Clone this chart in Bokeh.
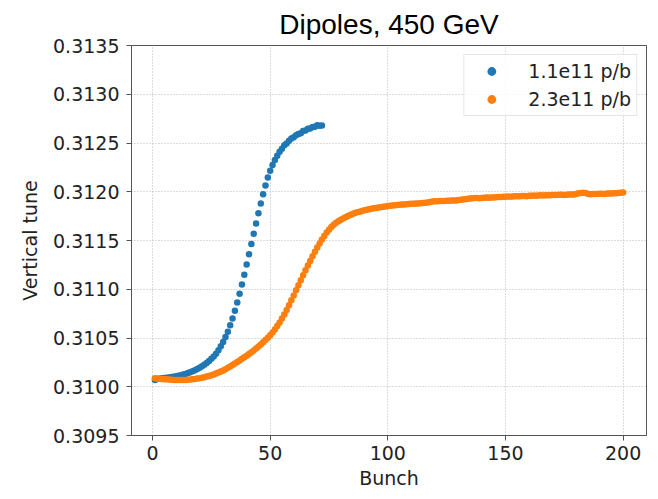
from bokeh.plotting import figure
from bokeh.models import FixedTicker, PrintfTickFormatter, Range1d, Legend, LegendItem
from bokeh.embed import file_html
from bokeh.resources import INLINE

title_text = "Dipoles, 450 GeV"
x_label = "Bunch"
y_label = "Vertical tune"
series_names = ["1.1e11 p/b", "2.3e11 p/b"]
x_ticks = [0, 50, 100, 150, 200]
y_ticks = [0.3095, 0.3100, 0.3105, 0.3110, 0.3115, 0.3120, 0.3125, 0.3130, 0.3135]

# tune offsets above 0.31, in units of 1e-6
blue_offsets = [
    68, 80, 83, 86, 89, 92, 95, 99, 103, 108,
    113, 119, 125, 132, 140, 149, 159, 170, 182, 195,
    210, 226, 244, 264, 286, 311, 339, 375, 415, 460,
    510, 565, 630, 700, 780, 865, 955, 1050, 1150, 1255,
    1360, 1465, 1570, 1675, 1780, 1880, 1975, 2065, 2145, 2215,
    2275, 2325, 2370, 2410, 2440, 2476, 2495, 2522, 2546, 2560,
    2580, 2592, 2600, 2622, 2628, 2645, 2650, 2663, 2666, 2682,
    2676, 2680,
]
orange_offsets = [
    88, 85, 82, 80, 78, 76, 74, 72, 70, 69,
    68, 68, 69, 70, 72, 74, 77, 80, 84, 88,
    93, 98, 104, 111, 118, 126, 135, 145, 156, 167,
    180, 194, 208, 223, 238, 254, 270, 286, 302, 319,
    336, 354, 373, 393, 413, 434, 456, 479, 503, 529,
    557, 588, 622, 659, 699, 742, 788, 836, 886, 937,
    989, 1041, 1093, 1144, 1194, 1243, 1291, 1338, 1384, 1428,
    1470, 1510, 1547, 1581, 1611, 1638, 1661, 1681, 1698, 1713,
    1726, 1739, 1751, 1762, 1772, 1781, 1789, 1796, 1803, 1809,
    1815, 1820, 1825, 1830, 1834, 1838, 1842, 1846, 1850, 1853,
    1856, 1859, 1862, 1864, 1866, 1868, 1870, 1872, 1874, 1876,
    1877, 1879, 1880, 1882, 1885, 1887, 1890, 1895, 1900, 1903,
    1902, 1904, 1906, 1905, 1907, 1908, 1910, 1909, 1911, 1915,
    1918, 1920, 1922, 1928, 1932, 1934, 1936, 1935, 1933, 1936,
    1938, 1940, 1939, 1941, 1942, 1944, 1945, 1946, 1948, 1950,
    1951, 1950, 1952, 1953, 1955, 1954, 1956, 1957, 1955, 1958,
    1960, 1961, 1960, 1962, 1963, 1962, 1964, 1965, 1964, 1966,
    1967, 1966, 1968, 1969, 1967, 1970, 1972, 1971, 1973, 1978,
    1985, 1988, 1990, 1987, 1980, 1975, 1976, 1978, 1977, 1979,
    1980, 1978, 1981, 1983, 1982, 1984, 1985, 1987, 1990, 1992,
]

base_tune = 0.31
blue_bunch = list(range(1, len(blue_offsets) + 1))
orange_bunch = list(range(1, len(orange_offsets) + 1))
blue_tune = [base_tune + v * 1e-6 for v in blue_offsets]
orange_tune = [base_tune + v * 1e-6 for v in orange_offsets]

colors = ["#1f77b4", "#ff7f0e"]

p = figure(width=650, height=491, output_backend="svg", toolbar_location=None,
           x_range=Range1d(-8.95, 209.95), y_range=Range1d(0.3095, 0.3135),
           min_border_left=131, min_border_right=4, min_border_top=45, min_border_bottom=54)

p.title.text = title_text
p.title.text_font = "Liberation Sans"
p.title.text_font_size = "28px"
p.title.text_font_style = "normal"
p.title.text_color = "black"
p.title.align = "center"
p.title.standoff = 12
p.title.offset = -5

r1 = p.scatter(blue_bunch, blue_tune, size=6.5, color=colors[0], line_color=None)
r2 = p.scatter(orange_bunch, orange_tune, size=6.5, color=colors[1], line_color=None)

axis_color = "#555555"
for ax in (p.xaxis[0], p.yaxis[0]):
    ax.axis_line_color = axis_color
    ax.major_tick_line_color = axis_color
    ax.minor_tick_line_color = None
    ax.major_tick_out = 5
    ax.major_tick_in = 0
    ax.major_label_text_font = "DejaVu Sans"
    ax.major_label_text_font_size = "19px"
    ax.major_label_text_color = "#222222"
    ax.axis_label_text_font = "DejaVu Sans"
    ax.axis_label_text_font_size = "19px"
    ax.axis_label_text_font_style = "normal"
    ax.axis_label_text_color = "#222222"

p.xaxis.ticker = FixedTicker(ticks=x_ticks)
p.yaxis.ticker = FixedTicker(ticks=y_ticks)
p.yaxis.formatter = PrintfTickFormatter(format="%.4f")
p.xaxis.axis_label = x_label
p.yaxis.axis_label = y_label
p.xaxis.major_label_standoff = 5
p.yaxis.major_label_standoff = 7
p.xaxis.axis_label_standoff = 4
p.yaxis.axis_label_standoff = 9

p.outline_line_color = axis_color
p.outline_line_width = 1

for g in (p.xgrid[0], p.ygrid[0]):
    g.grid_line_color = "#b8b8b8"
    g.grid_line_dash = "1 2"
    g.grid_line_width = 1

legend = Legend(items=[LegendItem(label=series_names[0], renderers=[r1]),
                       LegendItem(label=series_names[1], renderers=[r2])],
                location="top_right", margin=9, padding=5, spacing=6,
                glyph_width=44, glyph_height=22, label_standoff=15,
                label_text_font="DejaVu Sans", label_text_font_size="19px",
                label_text_color="#222222",
                border_line_color="#cccccc", border_line_width=1,
                background_fill_color="white", background_fill_alpha=0.8)
p.add_layout(legend)

open("out.html", "w").write(file_html(p, INLINE))
